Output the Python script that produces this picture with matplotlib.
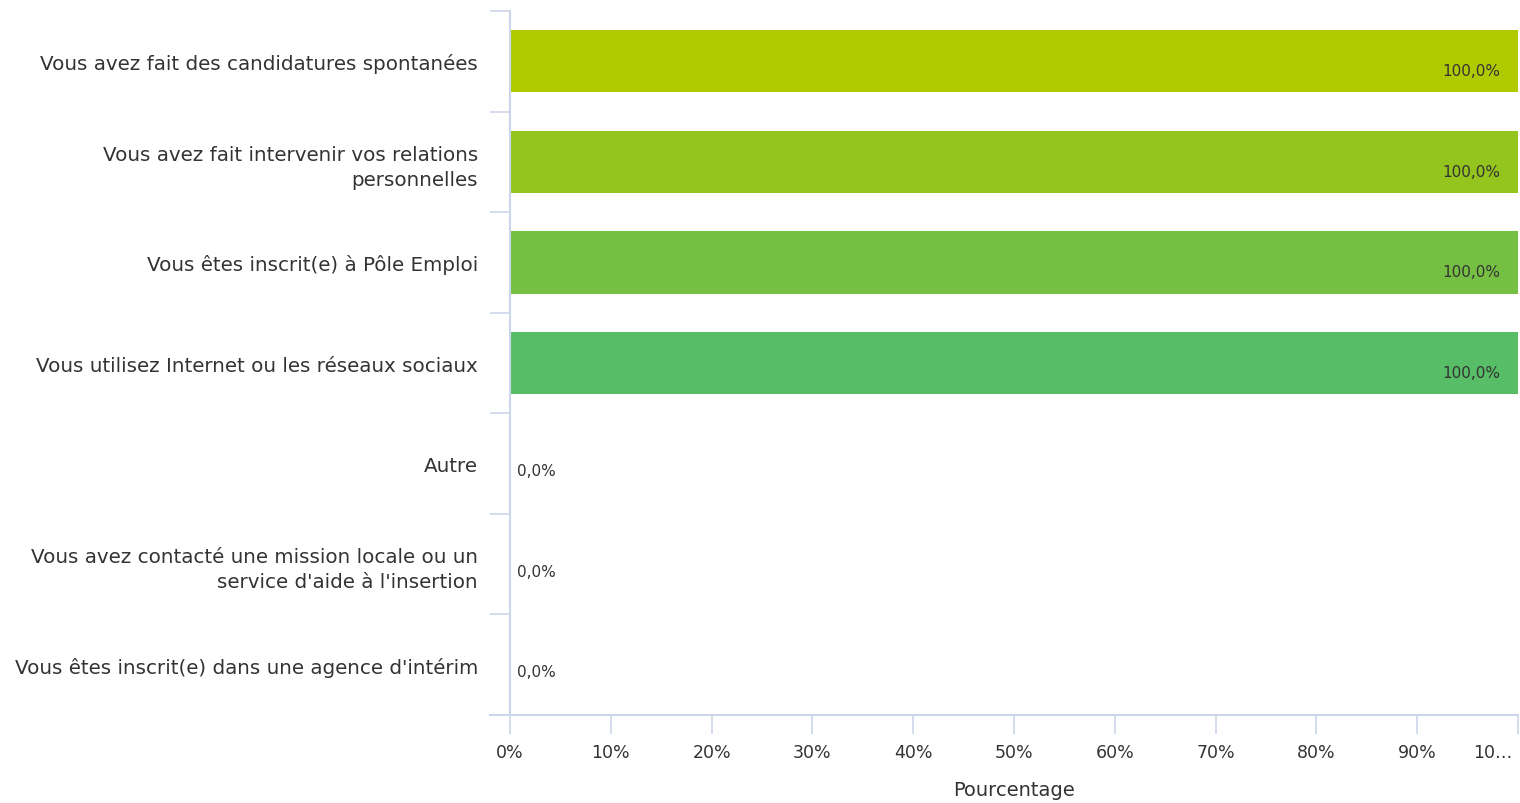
import matplotlib.pyplot as plt
import matplotlib.transforms as mtransforms
import numpy as np

categories = [
    "Vous avez fait des candidatures spontanées",
    "Vous avez fait intervenir vos relations\npersonnelles",
    "Vous êtes inscrit(e) à Pôle Emploi",
    "Vous utilisez Internet ou les réseaux sociaux",
    "Autre",
    "Vous avez contacté une mission locale ou un\nservice d'aide à l'insertion",
    "Vous êtes inscrit(e) dans une agence d'intérim",
]
values = [100.0, 100.0, 100.0, 100.0, 0.0, 0.0, 0.0]
colors = ["#B1CA00", "#94C41E", "#75BF43", "#57BD66", "#57BD66", "#57BD66", "#57BD66"]
xticks = [0, 10, 20, 30, 40, 50, 60, 70, 80, 90, 100]
xticklabels = ["0%", "10%", "20%", "30%", "40%", "50%", "60%", "70%", "80%", "90%", "10…"]

AXIS = "#CCD6EB"
TEXT = "#333333"
plt.rcParams["font.family"] = "DejaVu Sans"

fig = plt.figure(figsize=(15.2, 8.04), dpi=100)
ax = fig.add_axes([510 / 1520, 88 / 804, 1008 / 1520, 704 / 804])

y = np.arange(len(categories))
ax.barh(y, values, height=0.62, color=colors)
ax.set_ylim(len(categories) - 0.5, -0.5)
ax.set_xlim(0, 100)

for yi, v in zip(y, values):
    txt = f"{v:.1f}%".replace(".", ",")
    if v > 0:
        ax.text(98.2, yi + 0.095, txt, ha="right", va="center", fontsize=11, color=TEXT)
    else:
        ax.text(0.7, yi + 0.07, txt, ha="left", va="center", fontsize=11, color=TEXT)

for s in ["top", "right", "bottom"]:
    ax.spines[s].set_visible(False)
ax.spines["left"].set_color(AXIS)
ax.spines["left"].set_linewidth(1.5)
ax.plot([-20 / 1008, 1], [0, 0], transform=ax.transAxes, color=AXIS, lw=1.5, clip_on=False)

ax.set_yticks(y)
ax.set_yticklabels(categories, fontsize=14.3, color=TEXT, ha="right", linespacing=1.4)
ax.tick_params(axis="y", which="major", length=0, pad=23)
ax.set_yticks(np.arange(-0.5, len(categories)), minor=True)
ax.tick_params(axis="y", which="minor", length=14.4, width=1.2, color=AXIS)

ax.set_xticks(xticks)
ax.set_xticklabels(xticklabels, fontsize=12.5, color=TEXT)
ax.tick_params(axis="x", length=14, width=1.2, color=AXIS, pad=6)
last = ax.get_xticklabels()[-1]
last.set_horizontalalignment("right")
last.set_transform(last.get_transform() + mtransforms.ScaledTranslation(-6 / 100, 0, fig.dpi_scale_trans))
ax.set_xlabel("Pourcentage", fontsize=14, color=TEXT, labelpad=14)

fig.savefig("out.png", dpi=100, facecolor="white")
